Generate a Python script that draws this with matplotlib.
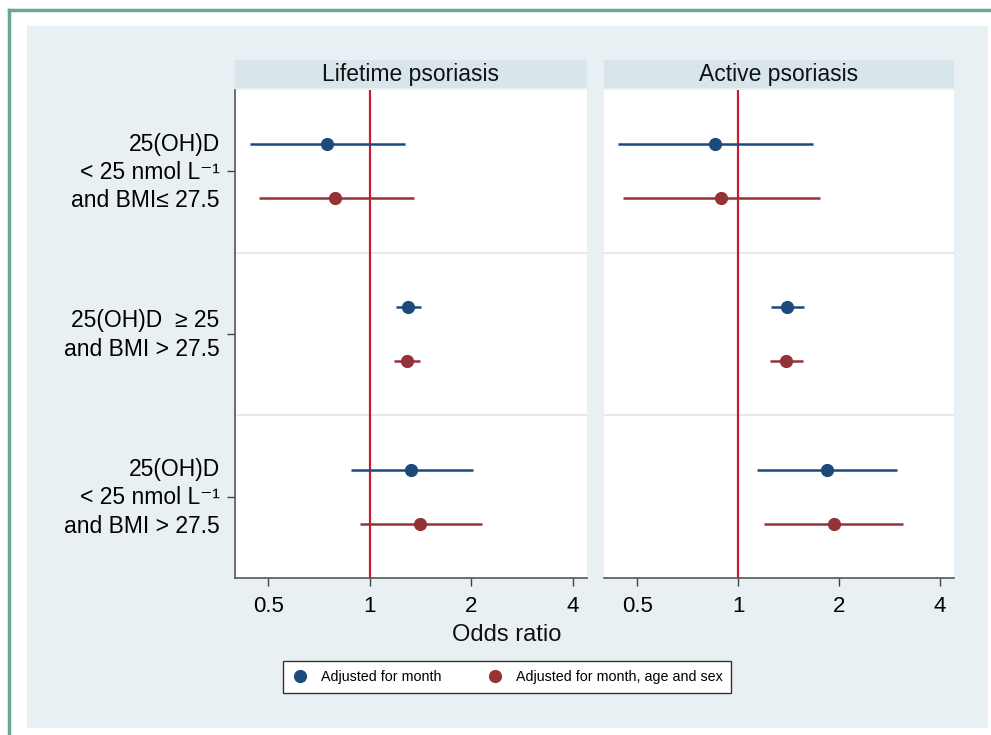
import matplotlib
matplotlib.use("Agg")
import matplotlib.pyplot as plt
from matplotlib.patches import Rectangle
from matplotlib.lines import Line2D
import numpy as np

plt.rcParams['font.family'] = ['Liberation Sans', 'DejaVu Sans']

# ---------------- data ----------------
panels = ["Lifetime psoriasis", "Active psoriasis"]
row_labels = [
    "25(OH)D\n< 25 nmol L\u207b\u00b9\nand BMI\u2264 27.5",
    "25(OH)D  \u2265 25\nand BMI > 27.5",
    "25(OH)D\n< 25 nmol L\u207b\u00b9\nand BMI > 27.5",
]
series_names = ["Adjusted for month", "Adjusted for month, age and sex"]

# Lifetime psoriasis
life_month_or = [0.745, 1.30, 1.32]
life_month_lo = [0.44, 1.195, 0.878]
life_month_hi = [1.27, 1.42, 2.02]
life_full_or = [0.79, 1.29, 1.41]
life_full_lo = [0.468, 1.18, 0.934]
life_full_hi = [1.35, 1.41, 2.15]

# Active psoriasis
act_month_or = [0.85, 1.40, 1.84]
act_month_lo = [0.437, 1.25, 1.14]
act_month_hi = [1.67, 1.57, 2.97]
act_full_or = [0.89, 1.39, 1.93]
act_full_lo = [0.455, 1.24, 1.195]
act_full_hi = [1.75, 1.56, 3.11]

xticks = [0.5, 1, 2, 4]
xtick_labels = ["0.5", "1", "2", "4"]

# ---------------- styling ----------------
BLUE = "#1c4a7a"
RED = "#953238"
REFRED = "#c0202e"
BG = "#e9f0f3"
STRIP = "#d8e5eb"
GREEN = "#6aaa8c"

W, H = 991, 735
fig = plt.figure(figsize=(W / 100, H / 100), dpi=100)
fig.patch.set_facecolor("white")

def fx(px):
    return px / W

def fy(py):
    return 1 - py / H

# background panel
fig.patches.append(Rectangle((fx(27), fy(728)), fx(988) - fx(27), fy(26) - fy(728),
                             transform=fig.transFigure, facecolor=BG, edgecolor="none", zorder=-2))
# green frame lines (top and left)
fig.lines.append(Line2D([fx(9), 1.0], [fy(10), fy(10)], transform=fig.transFigure,
                        color=GREEN, lw=2.5, zorder=-1))
fig.lines.append(Line2D([fx(9), fx(9)], [fy(10), 0.0], transform=fig.transFigure,
                        color=GREEN, lw=2.5, zorder=-1))

ax_lefts = [235, 604]
ax_rights = [587, 954]
top_px, bot_px = 90, 578
data = [
    (life_month_or, life_month_lo, life_month_hi, life_full_or, life_full_lo, life_full_hi),
    (act_month_or, act_month_lo, act_month_hi, act_full_or, act_full_lo, act_full_hi),
]
xlim = (0.398, 4.40)

for k in range(2):
    l, r = ax_lefts[k], ax_rights[k]
    ax = fig.add_axes([fx(l), fy(bot_px), fx(r) - fx(l), fy(top_px) - fy(bot_px)])
    ax.set_facecolor("white")
    ax.set_xscale("log", base=2)
    ax.set_xlim(*xlim)
    ax.set_ylim(2.5, -0.5)

    m_or, m_lo, m_hi, f_or, f_lo, f_hi = data[k]
    y = np.arange(len(row_labels))
    off = 1 / 6
    for sep in [0.5, 1.5]:
        ax.axhline(sep, color="#e4e4e4", lw=1.2, zorder=1)
    ax.axvline(1, color=REFRED, lw=1.6, zorder=2)
    ax.hlines(y - off, m_lo, m_hi, color=BLUE, lw=1.8, zorder=3)
    ax.plot(m_or, y - off, "o", color=BLUE, ms=8.5, zorder=4)
    ax.hlines(y + off, f_lo, f_hi, color=RED, lw=1.8, zorder=3)
    ax.plot(f_or, y + off, "o", color=RED, ms=8.5, zorder=4)

    ax.set_xticks(xticks)
    ax.set_xticklabels(xtick_labels, fontsize=16)
    ax.xaxis.set_minor_locator(matplotlib.ticker.NullLocator())
    ax.tick_params(axis="x", direction="out", length=6, width=1, color="#444444", pad=7)

    for s in ["top", "right"]:
        ax.spines[s].set_visible(False)
    ax.spines["bottom"].set_color("#555555")
    ax.spines["bottom"].set_linewidth(1.2)
    if k == 0:
        ax.spines["left"].set_color("#555555")
        ax.spines["left"].set_linewidth(1.2)
        ax.set_yticks(y)
        ax.set_yticklabels(row_labels, fontsize=16.5, linespacing=1.3, ha="right")
        ax.tick_params(axis="y", direction="out", length=6, width=1, color="#444444", pad=5)
        for t in ax.get_yticklabels():
            t.set_y(t.get_position()[1])
            t.set_transform(t.get_transform() + matplotlib.transforms.ScaledTranslation(0, 4 / 100, fig.dpi_scale_trans))
    else:
        ax.spines["left"].set_visible(False)
        ax.set_yticks([])

    # strip title
    sax = fig.add_axes([fx(l), fy(88), fx(r) - fx(l), fy(60) - fy(88)])
    sax.set_facecolor(STRIP)
    for s in sax.spines.values():
        s.set_visible(False)
    sax.set_xticks([])
    sax.set_yticks([])
    sax.text(0.5, 0.5, panels[k], ha="center", va="center", fontsize=16.5,
             transform=sax.transAxes, color="#111111")

fig.text(fx(507), fy(635), "Odds ratio", ha="center", va="center", fontsize=17, color="#111111")

handles = [
    Line2D([], [], marker="o", ls="none", color=BLUE, ms=8.5),
    Line2D([], [], marker="o", ls="none", color=RED, ms=8.5),
]
leg = fig.legend(handles, series_names, loc="center", bbox_to_anchor=(fx(507), fy(677)),
                 ncol=2, fontsize=10.3, frameon=True, fancybox=False, columnspacing=3.1,
                 handletextpad=0.9, borderpad=0.6, handlelength=1.2, framealpha=1.0)
leg.get_frame().set_edgecolor("#333333")
leg.get_frame().set_linewidth(1.0)
leg.get_frame().set_facecolor("white")

fig.savefig("out.png", dpi=100, facecolor=fig.get_facecolor())
